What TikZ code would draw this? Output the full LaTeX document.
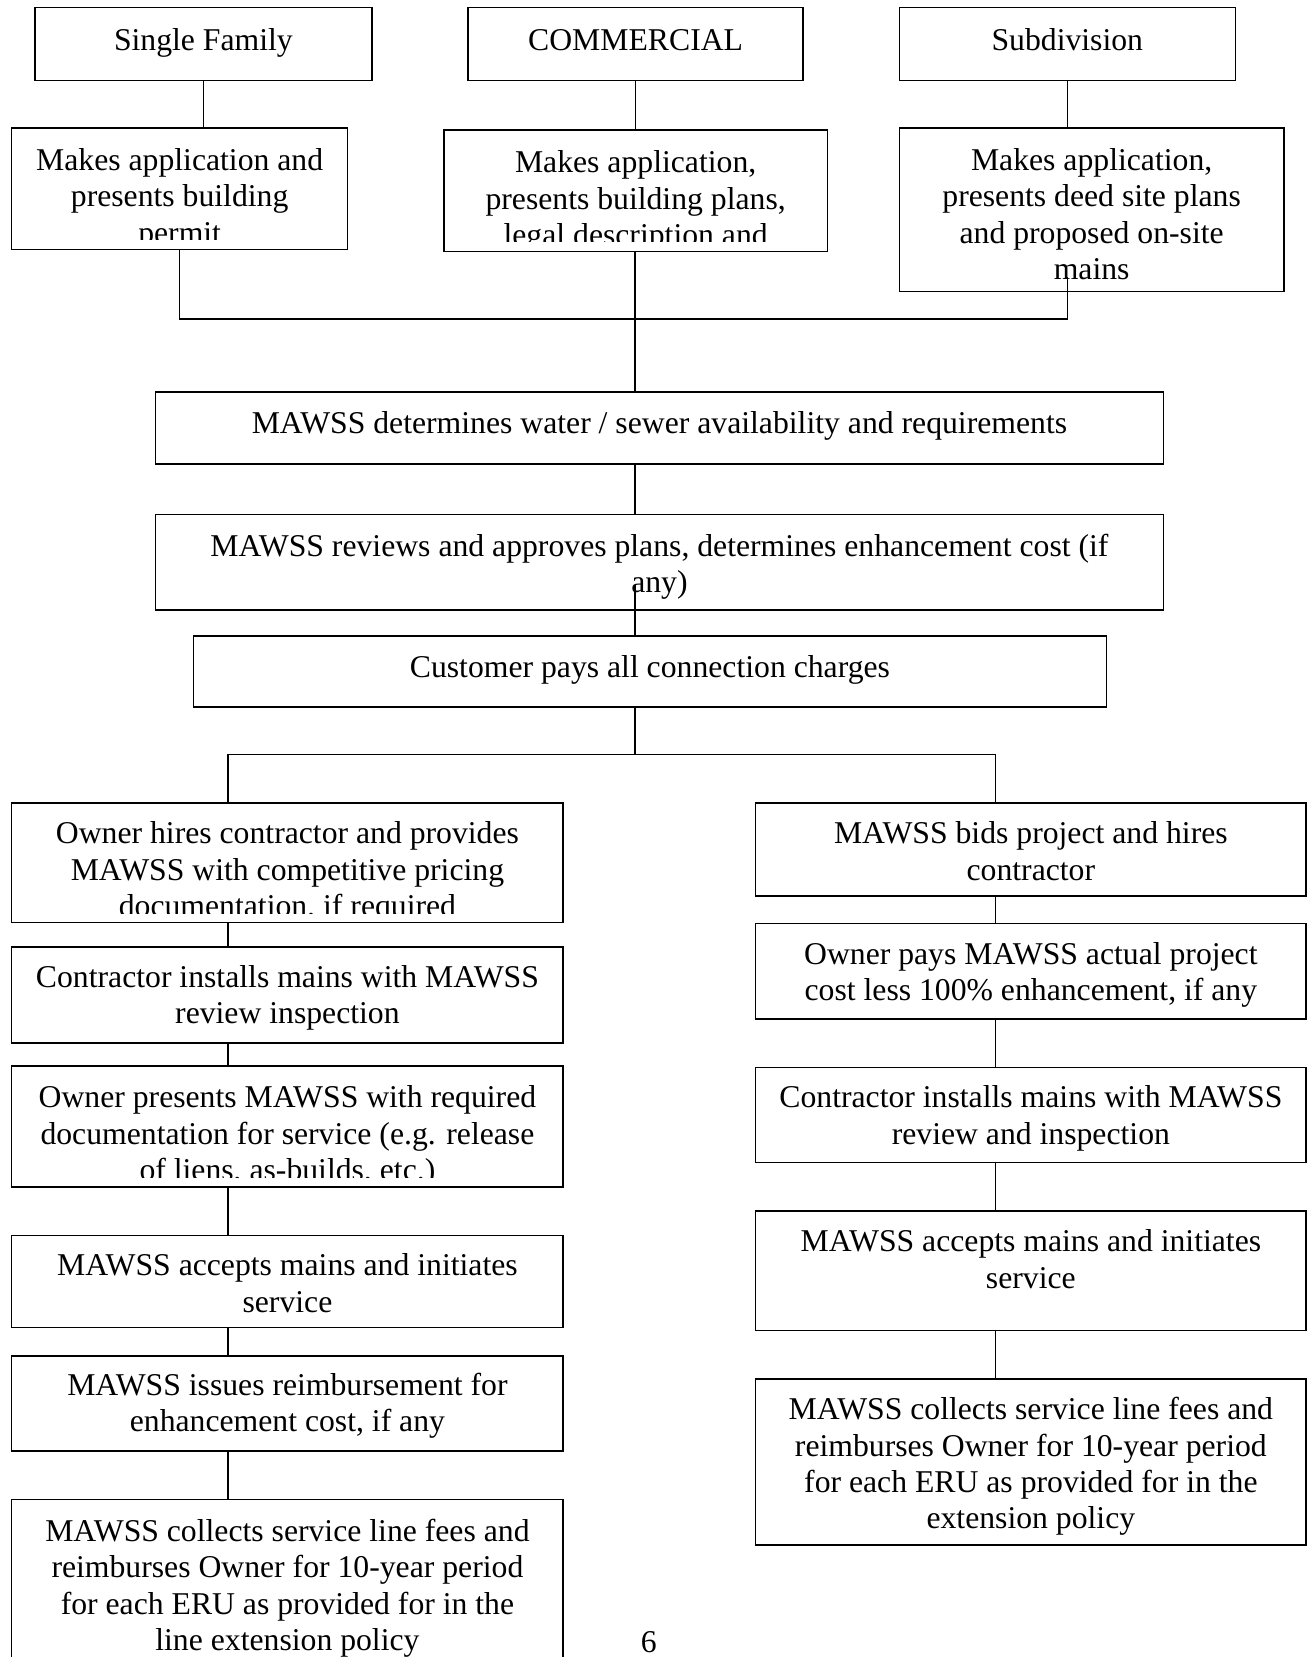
\documentclass[tikz,border=0pt]{standalone}
\usepackage{fontspec}
\setmainfont{Liberation Serif}
\begin{document}
\begin{tikzpicture}[x=1pt,y=-1pt,
  box/.style={draw, line width=1.5pt, inner sep=0pt, outer sep=0pt},
  txt/.style={anchor=north, align=center, inner sep=0pt, font=\fontsize{30}{34.5}\selectfont},
  conn/.style={line width=1.5pt}]
\useasboundingbox (0,0) rectangle (1237,1568);
\clip (0,0) rectangle (1237,1568);

% ---------- boxes ----------
\node[box, minimum width=319pt, minimum height=69pt] (sf)  at (192.5,41.5) {};
\node[box, minimum width=317pt, minimum height=69pt] (com) at (601.5,41.5) {};
\node[box, minimum width=318pt, minimum height=69pt] (sub) at (1010,41.5) {};
\node[box, minimum width=318pt, minimum height=115pt] (sfa)  at (170,178.5) {};
\node[box, minimum width=363pt, minimum height=115pt] (coma) at (601.5,180.5) {};
\node[box, minimum width=364pt, minimum height=155pt] (suba) at (1033,198.5) {};
\node[box, minimum width=954pt, minimum height=68pt] (det)  at (624,405) {};
\node[box, minimum width=954pt, minimum height=90pt] (rev)  at (624,532) {};
\node[box, minimum width=864pt, minimum height=67pt] (cust) at (615,635.5) {};
% left column
\node[box, minimum width=522pt, minimum height=113pt] (oh)  at (272,816.5) {};
\node[box, minimum width=522pt, minimum height=91pt]  (ci)  at (272,941.5) {};
\node[box, minimum width=522pt, minimum height=114pt] (op)  at (272,1066) {};
\node[box, minimum width=522pt, minimum height=87pt]  (acl) at (272,1212.5) {};
\node[box, minimum width=522pt, minimum height=90pt]  (iss) at (272,1328) {};
\node[box, minimum width=522pt, minimum height=181pt] (col) at (272,1509.5) {};
% right column
\node[box, minimum width=521pt, minimum height=88pt]  (bid) at (975.5,804) {};
\node[box, minimum width=521pt, minimum height=90pt]  (pay) at (975.5,919) {};
\node[box, minimum width=521pt, minimum height=90pt]  (cr)  at (975.5,1055) {};
\node[box, minimum width=521pt, minimum height=113pt] (acr) at (975.5,1202.5) {};
\node[box, minimum width=521pt, minimum height=157pt] (cor) at (975.5,1383.5) {};

% ---------- texts ----------
\node[txt] (sft)  at ([yshift=-16pt]sf.north)  {\strut Single Family};
\node[txt] (comt) at ([yshift=-16pt]com.north) {\strut COMMERCIAL};
\node[txt] (subt) at ([yshift=-16pt]sub.north) {\strut Subdivision};
\begin{scope}
  \clip (sfa.north west) rectangle ([yshift=9pt]sfa.south east);
  \node[txt] (sfat) at ([yshift=-16pt]sfa.north) {\strut Makes application and\\presents building\\permit};
\end{scope}
\begin{scope}
  \clip (coma.north west) rectangle ([yshift=9pt]coma.south east);
  \node[txt] (comat) at ([yshift=-16pt]coma.north) {\strut Makes application,\\presents building plans,\\legal description and};
\end{scope}
\node[txt] (subat) at ([yshift=-16pt]suba.north) {\strut Makes application,\\presents deed site plans\\and proposed on-site\\mains};
\node[txt] (dett)  at ([yshift=-15pt]det.north)  {\strut MAWSS determines water / sewer availability and requirements};
\node[txt] (revt)  at ([yshift=-15pt]rev.north)  {\strut MAWSS reviews and approves plans, determines enhancement cost (if\\any)};
\node[txt] (custt) at ([yshift=-15pt]cust.north) {\strut Customer pays all connection charges};
\begin{scope}
  \clip (oh.north west) rectangle ([yshift=9pt]oh.south east);
  \node[txt] (oht) at ([yshift=-14pt]oh.north) {\strut Owner hires contractor and provides\\MAWSS with competitive pricing\\documentation, if required};
\end{scope}
\node[txt] (cit) at ([yshift=-14pt]ci.north) {\strut Contractor installs mains with MAWSS\\review inspection};
\begin{scope}
  \clip (op.north west) rectangle ([yshift=9pt]op.south east);
  \node[txt] (opt) at ([yshift=-15pt]op.north) {\strut Owner presents MAWSS with required\\documentation for service (e.g. release\\of liens, as-builds, etc.)};
\end{scope}
\node[txt] (aclt) at ([yshift=-14pt]acl.north) {\strut MAWSS accepts mains and initiates\\service};
\node[txt] (isst) at ([yshift=-13pt]iss.north) {\strut MAWSS issues reimbursement for\\enhancement cost, if any};
\node[txt] (colt) at ([yshift=-15pt]col.north) {\strut MAWSS collects service line fees and\\reimburses Owner for 10-year period\\for each ERU as provided for in the\\line extension policy};
\node[txt] (bidt) at ([yshift=-14pt]bid.north) {\strut MAWSS bids project and hires\\contractor};
\node[txt] (payt) at ([yshift=-14pt]pay.north) {\strut Owner pays MAWSS actual project\\cost less 100\% enhancement, if any};
\node[txt] (crt)  at ([yshift=-14pt]cr.north)  {\strut Contractor installs mains with MAWSS\\review and inspection};
\node[txt] (acrt) at ([yshift=-14pt]acr.north) {\strut MAWSS accepts mains and initiates\\service};
\begin{scope}
  \clip (cor.north west) rectangle ([yshift=9pt]cor.south east);
  \node[txt] (cort) at ([yshift=-14pt]cor.north) {\strut MAWSS collects service line fees and\\reimburses Owner for 10-year period\\for each ERU as provided for in the\\extension policy};
\end{scope}
\node[txt, anchor=base] (pg) at (614,1564) {6};

% ---------- connectors ----------
\coordinate (j1) at (601,302);
\coordinate (subx) at (1010,262);
\coordinate (revx) at (601,554);
\coordinate (j2) at (601,714);
\coordinate (jl) at (216,714);
\coordinate (jr) at (942,714);

\draw[conn] (sf.south) -- (sf.south |- sfa.north);
\draw[conn] (com.south) -- (com.south |- coma.north);
\draw[conn] (sub.south) -- (sub.south |- suba.north);
\draw[conn] (sfa.south) -- (sfa.south |- j1) -- (j1 -| subx) -- (subx);
\draw[conn] (coma.south -| j1) -- (det.north -| j1);
\draw[conn] (det.south -| j1) -- (rev.north -| j1);
\draw[conn] (revx) -- (revx |- cust.north);
\draw[conn] (cust.south -| j2) -- (j2);
\draw[conn] (jl |- oh.north) -- (jl) -- (jr) -- (jr |- bid.north);
% left chain
\draw[conn] (oh.south -| jl) -- (ci.north -| jl);
\draw[conn] (ci.south -| jl) -- (op.north -| jl);
\draw[conn] (op.south -| jl) -- (acl.north -| jl);
\draw[conn] (acl.south -| jl) -- (iss.north -| jl);
\draw[conn] (iss.south -| jl) -- (col.north -| jl);
% right chain
\draw[conn] (bid.south -| jr) -- (pay.north -| jr);
\draw[conn] (pay.south -| jr) -- (cr.north -| jr);
\draw[conn] (cr.south -| jr) -- (acr.north -| jr);
\draw[conn] (acr.south -| jr) -- (cor.north -| jr);
\end{tikzpicture}
\end{document}
